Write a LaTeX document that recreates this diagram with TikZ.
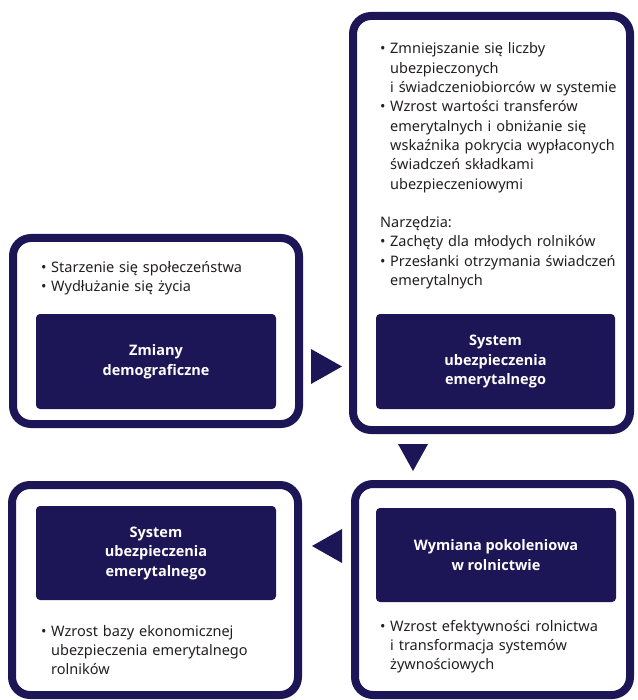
\documentclass[tikz,border=0pt]{standalone}
\usepackage{fontspec}
\setmainfont{Noto Sans}
\newfontfamily\titlefont{Open Sans}
\usetikzlibrary{calc}
\definecolor{navy}{RGB}{29,22,86}
\definecolor{txt}{RGB}{35,31,32}
\newcommand{\bul}{\makebox[10pt][l]{•}}
\newcommand{\ind}{\hspace*{10pt}}

\begin{document}
\begin{tikzpicture}[x=1pt,y=-1pt,
    frame/.style={draw=navy, line width=8pt, rounded corners=18pt, inner sep=0pt},
    title/.style={fill=navy, rounded corners=4pt, text=white, inner sep=0pt,
      font=\titlefont\bfseries\fontsize{14.5}{19.5}\selectfont, align=center},
    bullets/.style={anchor=base west, inner sep=0pt, text=txt, text width=260pt,
      align=left, font=\fontsize{14.5}{19.3}\selectfont}]

        \useasboundingbox (0,0) rectangle (637,700);

        % Frames
        \node[frame, minimum width=286pt, minimum height=186pt] (demo) at (156,331) {};
        \node[frame, minimum width=277pt, minimum height=414pt] (pension) at (491.5,223) {};
        \node[frame, minimum width=286pt, minimum height=210pt] (base) at (155,590) {};
        \node[frame, minimum width=275pt, minimum height=211pt] (gen) at (492.5,589.5) {};

        % Titles
        \node[title, minimum width=240pt, minimum height=95pt] (demotitle) at (156,361.5) {Zmiany\\demograficzne};
        \node[title, minimum width=239pt, minimum height=95pt] (pensiontitle) at (495.5,361.5) {System\\ubezpieczenia\\emerytalnego};
        \node[title, minimum width=240pt, minimum height=94pt] (basetitle) at (156,553) {System\\ubezpieczenia\\emerytalnego};
        \node[title, minimum width=240pt, minimum height=94pt] (gentitle) at (496,555) {Wymiana pokoleniowa\\w rolnictwie};

        % Labels
        \node[bullets] (demotext) at (41,272) {\bul Starzenie się społeczeństwa\\
          \bul Wydłużanie się życia};
        \node[bullets] (pensiontext) at (380,54) {\bul Zmniejszanie się liczby\\
          \ind ubezpieczonych\\
          \ind i świadczeniobiorców w systemie\\
          \bul Wzrost wartości transferów\\
          \ind emerytalnych i obniżanie się\\
          \ind wskaźnika pokrycia wypłaconych\\
          \ind świadczeń składkami\\
          \ind ubezpieczeniowymi\\[19.3pt]
          Narzędzia:\\
          \bul Zachęty dla młodych rolników\\
          \bul Przesłanki otrzymania świadczeń\\
          \ind emerytalnych};
        \node[bullets] (basetext) at (41,636) {\bul Wzrost bazy ekonomicznej\\
          \ind ubezpieczenia emerytalnego\\
          \ind rolników};
        \node[bullets] (gentext) at (380,631) {\bul Wzrost efektywności rolnictwa\\
          \ind i transformacja systemów\\
          \ind żywnościowych};

        % Arrows
        \coordinate (demo2pension) at (342,366.5);
        \coordinate (pension2gen) at (413,471);
        \coordinate (gen2base) at (312,546);
        \fill[navy] (demo2pension) -- ++(-31,-17.5) -- ++(0,35) -- cycle;
        \fill[navy] (pension2gen) -- ++(-15,-27) -- ++(30,0) -- cycle;
        \fill[navy] (gen2base) -- ++(30,-17) -- ++(0,34) -- cycle;
    \end{tikzpicture}
\end{document}
